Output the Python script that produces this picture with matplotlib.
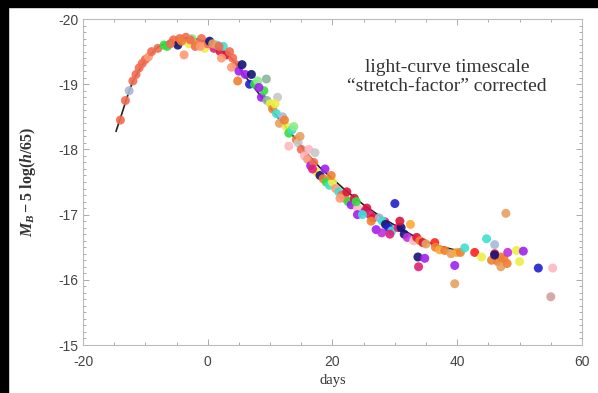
import matplotlib
matplotlib.use("Agg")
import matplotlib.pyplot as plt
from matplotlib.patches import Rectangle
from matplotlib.ticker import MultipleLocator

# template light curve (black line)
TEMPLATE_DAYS = [-14.7, -14, -13, -12, -10, -8, -6, -4, -2, 0, 2, 4, 6, 8, 10, 12,
                 14, 16, 18, 20, 22, 25, 28, 31, 34, 37, 40]
TEMPLATE_MAG = [-18.28, -18.48, -18.78, -19.05, -19.38, -19.57, -19.67, -19.71, -19.70,
                -19.64, -19.55, -19.38, -19.12, -18.88, -18.64, -18.40, -18.17, -17.93,
                -17.72, -17.55, -17.38, -17.15, -16.95, -16.78, -16.62, -16.52, -16.45]

# stretch-corrected observations, one colour per supernova
SN_COLORS = ["#f26b4f", "#a8b8d8", "#ff9a76", "#33dd44", "#f08030", "#141478",
             "#eeee44", "#88ee88", "#e0207a", "#40e0d0", "#dc143c", "#a020f0",
             "#ffaa33", "#8ab89a", "#e8a060", "#ffb6c1", "#c8c8c8", "#2020d0",
             "#c030e0", "#ff2020", "#d4a0a0"]

OBS_DAYS = [
    -14.0, -13.2, -12.6, -12.0, -11.5, -11.0, -10.5, -10.0, -9.5, -9.0,
    -8.0, -7.0, -6.5, -5.5, -5.0, -4.8, -4.5, -3.5, -3.0, -2.5,
    -3.8, -2.0, -1.5, -1.0, -0.5, 0.0, 0.3, 1.0, 1.5, 2.0,
    2.5, 3.0, 3.5, 4.0, 4.5, 3.8, 5.0, 5.5, 6.0, 4.8,
    6.7, 7.5, 8.0, 9.4, 8.6, 9.0, 9.5, 10.0, 10.4, 11.0,
    11.2, 11.5, 12.0, 12.6, 13.0, 13.5, 14.2, 13.0, 14.5, 15.0,
    15.5, 16.0, 16.5, 17.0, 17.5, 18.0, 18.5, 19.0, 19.5, 20.0,
    20.5, 21.0, 21.5, 22.0, 22.5, 23.0, 23.5, 24.0, 24.0, 25.2,
    25.5, 26.0, 26.5, 27.0, 27.9, 28.4, 27.5, 28.0, 28.5, 29.0,
    29.5, 30.0, 30.5, 31.0, 31.5, 32.0, 32.5, 33.0, 33.5, 33.7,
    33.8, 34.8, 34.0, 34.5, 35.0, 36.4, 36.5, 37.2, 38.0, 39.0,
    39.9, 40.5, 41.2, 39.6, 39.6, 42.8, 44.7, 43.9, 46.0, 46.0,
    45.5, 46.5, 47.0, 47.5, 47.0, 48.0, 46.0, 48.1, 50.0, 49.5,
    50.6, 47.8, 53.0, 55.3, 55.0,
    -6.0, -4.2, -2.8, -1.2, 0.8, 1.8, 2.2, 7.0, 8.2, 10.8,
    12.3, 13.8, 14.8, 16.2, 16.8, 17.2, 18.8, 19.8, 21.2, 22.3,
    23.8, 24.8, 26.2, 29.2, 30.8,
]
OBS_MAG = [
    -18.45, -18.75, -18.90, -19.05, -19.15, -19.25, -19.32, -19.38, -19.42, -19.50,
    -19.55, -19.60, -19.58, -19.68, -19.65, -19.60, -19.70, -19.72, -19.62, -19.70,
    -19.45, -19.58, -19.62, -19.70, -19.55, -19.62, -19.66, -19.55, -19.60, -19.50,
    -19.58, -19.45, -19.50, -19.40, -19.30, -19.26, -19.20, -19.30, -19.15, -19.05,
    -19.00, -19.00, -19.05, -19.08, -18.80, -18.90, -18.75, -18.70, -18.62, -18.55,
    -18.80, -18.40, -18.50, -18.35, -18.25, -18.30, -18.15, -18.05, -18.10, -18.00,
    -17.90, -17.85, -17.75, -17.80, -17.65, -17.60, -17.55, -17.50, -17.45, -17.50,
    -17.40, -17.35, -17.30, -17.25, -17.20, -17.15, -17.25, -17.10, -17.00, -17.05,
    -17.10, -17.00, -16.95, -16.77, -16.72, -16.89, -16.95, -16.90, -16.85, -16.80,
    -16.75, -17.17, -16.80, -16.80, -16.70, -16.65, -16.85, -16.60, -16.65, -16.35,
    -16.20, -16.33, -16.60, -16.57, -16.55, -16.57, -16.50, -16.46, -16.45, -16.40,
    -16.42, -16.42, -16.49, -16.22, -15.94, -16.42, -16.63, -16.35, -16.54, -16.40,
    -16.30, -16.28, -16.35, -16.32, -16.20, -16.25, -16.38, -16.42, -16.28, -16.45,
    -16.44, -17.02, -16.18, -16.18, -15.74,
    -19.62, -19.66, -19.68, -19.58, -19.62, -19.58, -19.40, -19.15, -18.95, -18.70,
    -18.45, -18.35, -18.20, -18.00, -17.70, -17.95, -17.70, -17.60, -17.25, -17.35,
    -17.20, -17.00, -16.90, -16.70, -16.90,
]
OBS_SN = [
    0, 0, 1, 0, 0, 0, 0, 0, 2, 0,
    0, 3, 3, 0, 4, 5, 0, 0, 6, 7,
    2, 0, 4, 0, 6, 0, 5, 8, 9, 10,
    9, 10, 0, 0, 0, 2, 11, 5, 11, 4,
    17, 3, 7, 13, 11, 3, 13, 6, 4, 9,
    16, 14, 1, 6, 3, 9, 4, 15, 16, 0,
    15, 2, 11, 0, 6, 5, 4, 3, 9, 6,
    2, 9, 0, 4, 3, 11, 10, 15, 11, 11,
    10, 8, 10, 11, 18, 8, 1, 9, 5, 17,
    9, 17, 8, 5, 5, 18, 12, 15, 10, 5,
    8, 11, 4, 10, 14, 19, 4, 12, 4, 14,
    12, 4, 9, 11, 14, 19, 9, 6, 1, 10,
    4, 4, 4, 4, 14, 4, 5, 18, 6, 6,
    11, 14, 17, 15, 20,
    0, 4, 0, 2, 14, 0, 2, 5, 11, 6,
    4, 7, 14, 15, 8, 16, 11, 4, 2, 10,
    3, 9, 4, 8, 10,
]


def main() -> None:
    plt.rcParams["axes.unicode_minus"] = False
    plt.rcParams["mathtext.fontset"] = "custom"
    plt.rcParams["mathtext.it"] = "Liberation Serif:italic:bold"
    plt.rcParams["mathtext.rm"] = "Liberation Serif:bold"
    plt.rcParams["mathtext.bf"] = "Liberation Serif:bold"
    plt.rcParams["font.family"] = ["Liberation Sans", "DejaVu Sans"]

    fig = plt.figure(figsize=(5.98, 3.93), dpi=100)
    ax = fig.add_axes([0.1388, 0.1221, 0.8344, 0.8295])

    ax.plot(TEMPLATE_DAYS, TEMPLATE_MAG, color="#222222", lw=1.2, zorder=2)
    colors = [SN_COLORS[i] for i in OBS_SN]
    ax.scatter(OBS_DAYS, OBS_MAG, s=42, c=colors, edgecolors="none", alpha=0.9, zorder=3)

    ax.set_xlim(-20, 60)
    ax.set_ylim(-15, -20)
    ax.xaxis.set_major_locator(MultipleLocator(20))
    ax.xaxis.set_minor_locator(MultipleLocator(5))
    ax.yaxis.set_major_locator(MultipleLocator(1))
    ax.yaxis.set_minor_locator(MultipleLocator(0.1))
    ax.tick_params(which="both", direction="in", top=True, right=True,
                   color="#aaaaaa", width=0.7, labelcolor="#444444", labelsize=10)
    ax.tick_params(which="major", length=4)
    ax.tick_params(which="minor", length=2)
    ax.tick_params(axis="x", pad=7)
    for spine in ax.spines.values():
        spine.set_color("#bbbbbb")
        spine.set_linewidth(0.8)

    ax.set_xlabel("days", family="Liberation Serif", fontsize=10.5, color="#333333", labelpad=4)
    ax.set_ylabel(r"$M_B - 5\ \mathrm{log}(h/65)$", fontsize=11.5, color="#333333", labelpad=14)

    ax.text(0.729, 0.822, "light-curve timescale\n\u201cstretch-factor\u201d corrected",
            transform=ax.transAxes, ha="center", va="center", family="Liberation Serif",
            fontsize=14, color="#333333", linespacing=1.2)

    # black frame strips along top and left edges
    fig.add_artist(Rectangle((0, 1 - 0.018), 1, 0.018, transform=fig.transFigure,
                             color="black", zorder=10))
    fig.add_artist(Rectangle((0, 0), 0.0134, 1, transform=fig.transFigure,
                             color="black", zorder=10))

    fig.savefig("out.png", dpi=100)
    plt.close(fig)


if __name__ == "__main__":
    main()
